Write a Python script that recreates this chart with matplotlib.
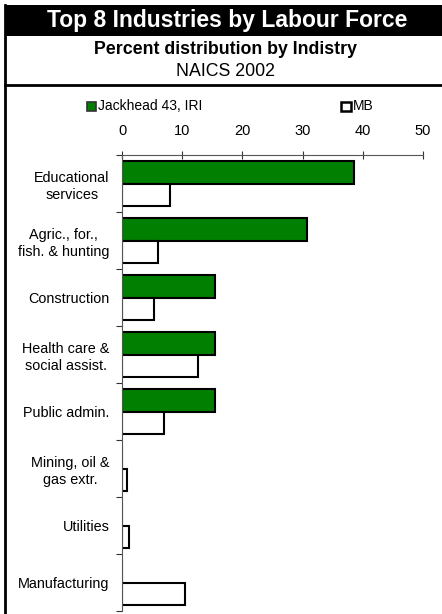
import numpy as np
import matplotlib
matplotlib.use('Agg')
import matplotlib.pyplot as plt
from matplotlib.patches import Rectangle
from matplotlib.lines import Line2D

plt.rcParams['font.family'] = ['Liberation Sans', 'DejaVu Sans']

# data (percent)
industries = ['Educational\nservices', 'Agric., for.,\nfish. & hunting', 'Construction',
              'Health care &\nsocial assist.', 'Public admin.', 'Mining, oil &\ngas extr.',
              'Utilities', 'Manufacturing']
jackhead = [38.5, 30.8, 15.4, 15.4, 15.4, 0.0, 0.0, 0.0]
mb = [7.9, 6.0, 5.3, 12.7, 6.9, 0.8, 1.2, 10.5]
series_names = ['Jackhead 43, IRI', 'MB']
green = '#007F00'

W, H = 442, 614
fig = plt.figure(figsize=(W / 100, H / 100), dpi=100)

# header band and frame lines
fig.patches.append(Rectangle((5 / W, 1 - 36 / H), 1 - 5 / W, 31 / H, transform=fig.transFigure,
                             facecolor='black', edgecolor='none'))
fig.lines.append(Line2D([5 / W, 5 / W], [0, 1 - 5 / H], transform=fig.transFigure, color='black', lw=2))
fig.lines.append(Line2D([5 / W, 1], [1 - 85 / H, 1 - 85 / H], transform=fig.transFigure, color='black', lw=2))

fig.text(227 / W, 1 - 21 / H, 'Top 8 Industries by Labour Force', color='white', fontsize=16.5,
         fontweight='bold', ha='center', va='center')
fig.text(226 / W, 1 - 49 / H, 'Percent distribution by Indistry', fontsize=12.8,
         fontweight='bold', ha='center', va='center')
fig.text(226 / W, 1 - 72 / H, 'NAICS 2002', fontsize=12.8, ha='center', va='center')

# legend
fig.patches.append(Rectangle((87 / W, 1 - 110.5 / H), 9 / W, 9 / H, transform=fig.transFigure,
                             facecolor=green, edgecolor='#333333', lw=1.2))
fig.text(98 / W, 1 - 106 / H, series_names[0], fontsize=10, ha='left', va='center')
fig.patches.append(Rectangle((341 / W, 1 - 110.5 / H), 10 / W, 9 / H, transform=fig.transFigure,
                             facecolor='white', edgecolor='black', lw=1.8))
fig.text(353 / W, 1 - 106 / H, series_names[1], fontsize=10, ha='left', va='center')

ax = fig.add_axes([122 / W, 1 - 611 / H, 301 / W, 456 / H])
n = len(industries)
y = np.arange(n)
h = 0.395
ax.barh(y - h / 2, jackhead, height=h, color=green, edgecolor='black', lw=1.5)
ax.barh(y + h / 2, mb, height=h, color='white', edgecolor='black', lw=1.5)

ax.set_xlim(0, 50)
ax.set_ylim(n - 0.5, -0.5)
ax.set_xticks(range(0, 51, 10))
ax.xaxis.tick_top()
ax.tick_params(axis='x', direction='inout', length=6, width=0.8, labelsize=10.5, pad=9, color='#333333')
ax.set_yticks(y)
ax.set_yticklabels(industries, multialignment='center', linespacing=1.25)
ax.set_yticks(np.arange(n + 1) - 0.5, minor=True)
ax.tick_params(axis='y', which='major', length=0, labelsize=10.4, pad=9)
ax.tick_params(axis='y', which='minor', length=4, width=0.8, direction='out', color='#333333')
for s in ['right', 'bottom']:
    ax.spines[s].set_visible(False)
for s in ['top', 'left']:
    ax.spines[s].set_color('#555555')
    ax.spines[s].set_linewidth(0.8)

fig.savefig('out.png', dpi=100)
